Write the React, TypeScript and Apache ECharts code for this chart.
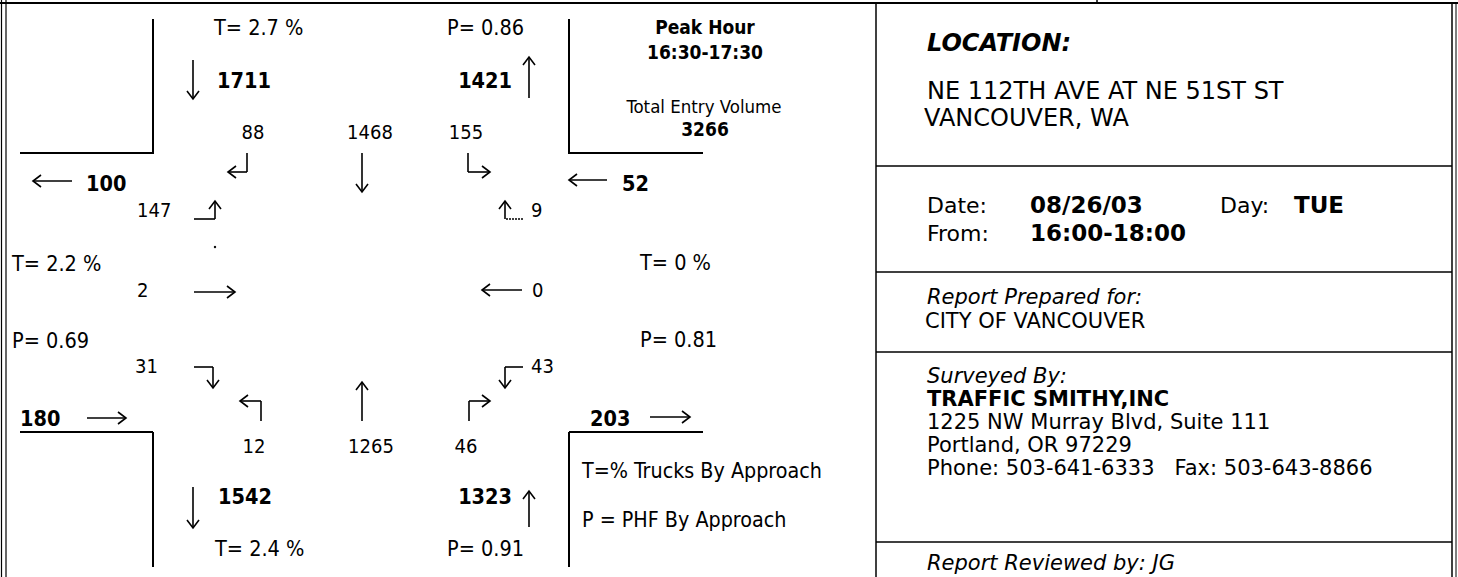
import React, { useEffect, useRef } from "react";
import * as echarts from "echarts";

const W = 1458;
const H = 577;
const FONT_C = "'DejaVu Sans Condensed', 'DejaVu Sans', sans-serif";
const FONT_W = "'DejaVu Sans', sans-serif";

// ---- data ----
const peakHour = "16:30-17:30";
const totalEntryVolume = 3266;
// leg order: north, east, south, west
const legApproach = [1711, 52, 1323, 180];
const legDeparture = [1421, 203, 1542, 100];
const legTrucks = ["2.7", "0", "2.4", "2.2"];
const legPhf = ["0.86", "0.81", "0.91", "0.69"];
// movements shown per approach
const southboundMoves = [88, 1468, 155]; // right, through, left
const northboundMoves = [12, 1265, 46]; // left, through, right
const eastboundMoves = [147, 2, 31]; // left, through, right
const westboundMoves = [9, 0, 43]; // right, through, left
const infoLocation = ["NE 112TH AVE AT NE 51ST ST", "VANCOUVER, WA"];
const infoDate = "08/26/03";
const infoDay = "TUE";
const infoFrom = "16:00-18:00";
const infoPreparedFor = "CITY OF VANCOUVER";
const infoSurveyor = "TRAFFIC SMITHY,INC";
const infoAddress = ["1225 NW Murray Blvd, Suite 111", "Portland, OR 97229", "Phone: 503-641-6333   Fax: 503-643-8866"];
const infoReviewer = "JG";

const LW = 1.6;

function line(x1: number, y1: number, x2: number, y2: number, lw = LW, dash?: number[]) {
  return {
    type: "line",
    shape: { x1, y1, x2, y2 },
    style: { stroke: "#000", lineWidth: lw, lineDash: dash },
    silent: true,
  };
}

function head(x: number, y: number, dir: string) {
  const a = 8;
  const b = 6;
  let pts: number[][];
  if (dir === "l") pts = [[x + a, y - b], [x, y], [x + a, y + b]];
  else if (dir === "r") pts = [[x - a, y - b], [x, y], [x - a, y + b]];
  else if (dir === "u") pts = [[x - b, y + a], [x, y], [x + b, y + a]];
  else pts = [[x - b, y - a], [x, y], [x + b, y - a]];
  return { type: "polyline", shape: { points: pts }, style: { stroke: "#000", lineWidth: LW, fill: null }, silent: true };
}

function path(points: number[][], dir: string, dash?: number[]) {
  const els: any[] = [];
  for (let i = 0; i < points.length - 1; i++) {
    els.push(line(points[i][0], points[i][1], points[i + 1][0], points[i + 1][1], LW, i === 0 ? dash : undefined));
  }
  const last = points[points.length - 1];
  els.push(head(last[0], last[1], dir));
  return els;
}

function txt(x: number, y: number, text: string | number, o: any = {}) {
  const align = o.align || "left";
  return {
    type: "text",
    x,
    y,
    silent: true,
    style: {
      text: String(text),
      fill: "#000",
      fontFamily: o.wide ? FONT_W : FONT_C,
      fontSize: o.size || 20,
      fontWeight: o.bold ? "bold" : "normal",
      fontStyle: o.italic ? "italic" : "normal",
      align,
      textAlign: align,
      verticalAlign: "middle",
      textVerticalAlign: "middle",
    },
  };
}

const LBL = 21.5; // T= / P= labels
const NUM = 20; // movement numbers
const BNUM = 21.5; // bold leg totals

function buildGraphics() {
  const g: any[] = [];
  // frame
  g.push(line(0, 3, W, 3, 2));
  g.push(line(1097, 0, 1097, 3, 1.5));
  g.push(line(1.5, 0, 1.5, H, 1.2));
  g.push(line(6, 0, 6, H, 1.2));
  g.push(line(876, 3, 876, H, 1.5));
  g.push(line(1452, 3, 1452, H, 1.5));
  g.push(line(1456, 3, 1456, H, 1));
  [166, 272, 352, 542].forEach((y) => g.push(line(876, y, 1452, y, 1.5)));

  // curbs
  g.push(line(153, 19, 153, 154, 2), line(20, 153, 153, 153, 2));
  g.push(line(569, 19, 569, 154, 2), line(569, 153, 703, 153, 2));
  g.push(line(20, 432, 153, 432, 2), line(153, 432, 153, 567, 2));
  g.push(line(569, 432, 703, 432, 2), line(569, 432, 569, 567, 2));

  // small scan dot
  g.push({ type: "circle", shape: { cx: 215, cy: 247, r: 1.2 }, style: { fill: "#000" }, silent: true });

  // north leg
  g.push(txt(214, 27, `T= ${legTrucks[0]} %`, { size: LBL }));
  g.push(txt(447, 27, `P= ${legPhf[0]}`, { size: LBL }));
  g.push(...path([[193, 60], [193, 99]], "d"));
  g.push(txt(217, 80, legApproach[0], { bold: true, size: BNUM }));
  g.push(txt(512, 80, legDeparture[0], { bold: true, size: BNUM, align: "right" }));
  g.push(...path([[529, 98], [529, 57]], "u"));

  // peak hour box
  g.push(txt(705, 27, "Peak Hour", { bold: true, size: 19, align: "center" }));
  g.push(txt(705, 52, peakHour, { bold: true, size: 19, align: "center" }));
  g.push(txt(704, 106, "Total Entry Volume", { size: 18.5, align: "center" }));
  g.push(txt(705, 129, totalEntryVolume, { bold: true, size: 19, align: "center" }));

  // southbound movements
  g.push(txt(253, 132, southboundMoves[0], { size: NUM, align: "center" }));
  g.push(txt(370, 132, southboundMoves[1], { size: NUM, align: "center" }));
  g.push(txt(466, 132, southboundMoves[2], { size: NUM, align: "center" }));
  g.push(...path([[247, 153], [247, 172], [228, 172]], "l"));
  g.push(...path([[362, 153], [362, 192]], "d"));
  g.push(...path([[468, 153], [468, 172], [490, 172]], "r"));

  // west leg departures / east leg approach
  g.push(...path([[72, 181], [33, 181]], "l"));
  g.push(txt(86, 183, legDeparture[3], { bold: true, size: BNUM }));
  g.push(...path([[607, 180], [569, 180]], "l"));
  g.push(txt(622, 183, legApproach[1], { bold: true, size: BNUM }));

  // eastbound movements
  g.push(txt(137, 210, eastboundMoves[0], { size: NUM }));
  g.push(...path([[194, 219], [215, 219], [215, 201]], "u"));
  g.push(txt(137, 290, eastboundMoves[1], { size: NUM }));
  g.push(...path([[194, 292], [235, 292]], "r"));
  g.push(txt(135, 366, eastboundMoves[2], { size: NUM }));
  g.push(...path([[194, 367], [213, 367], [213, 388]], "d"));

  // westbound movements
  g.push(txt(531, 210, westboundMoves[0], { size: NUM }));
  g.push(...path([[523, 219], [505, 219], [505, 201]], "u", [2, 1]));
  g.push(txt(532, 290, westboundMoves[1], { size: NUM }));
  g.push(...path([[522, 290], [482, 290]], "l"));
  g.push(txt(531, 366, westboundMoves[2], { size: NUM }));
  g.push(...path([[523, 367], [505, 367], [505, 388]], "d"));

  // west & east leg stats
  g.push(txt(12, 263, `T= ${legTrucks[3]} %`, { size: LBL }));
  g.push(txt(12, 340, `P= ${legPhf[3]}`, { size: LBL }));
  g.push(txt(640, 262, `T= ${legTrucks[1]} %`, { size: LBL }));
  g.push(txt(640, 339, `P= ${legPhf[1]}`, { size: LBL }));

  // west leg approach / east leg departure
  g.push(txt(20, 418, legApproach[3], { bold: true, size: BNUM }));
  g.push(...path([[87, 418], [126, 418]], "r"));
  g.push(txt(590, 418, legDeparture[1], { bold: true, size: BNUM }));
  g.push(...path([[650, 417], [690, 417]], "r"));

  // northbound movements
  g.push(...path([[261, 421], [261, 401], [240, 401]], "l"));
  g.push(...path([[362, 421], [362, 382]], "u"));
  g.push(...path([[469, 421], [469, 401], [490, 401]], "r"));
  g.push(txt(254, 446, northboundMoves[0], { size: NUM, align: "center" }));
  g.push(txt(371, 446, northboundMoves[1], { size: NUM, align: "center" }));
  g.push(txt(466, 446, northboundMoves[2], { size: NUM, align: "center" }));

  // south leg
  g.push(...path([[193, 487], [193, 528]], "d"));
  g.push(txt(218, 496, legDeparture[2], { bold: true, size: BNUM }));
  g.push(txt(512, 496, legApproach[2], { bold: true, size: BNUM, align: "right" }));
  g.push(...path([[529, 527], [529, 491]], "u"));
  g.push(txt(215, 548, `T= ${legTrucks[2]} %`, { size: LBL }));
  g.push(txt(447, 548, `P= ${legPhf[2]}`, { size: LBL }));

  // legend
  g.push(txt(582, 470, "T=% Trucks By Approach", { size: 21.3 }));
  g.push(txt(582, 519, "P = PHF By Approach", { size: 21.3 }));

  // info panel
  const X = 927;
  const S = 21;
  g.push(txt(X, 43, "LOCATION:", { bold: true, italic: true, size: 24, wide: true }));
  g.push(txt(X, 91, infoLocation[0], { size: 24, wide: true }));
  g.push(txt(X - 3, 118, infoLocation[1], { size: 24, wide: true }));
  g.push(txt(X, 205, "Date:", { size: 22, wide: true }));
  g.push(txt(1030, 205, infoDate, { bold: true, size: 23, wide: true }));
  g.push(txt(1220, 205, "Day:", { size: 22, wide: true }));
  g.push(txt(1294, 205, infoDay, { bold: true, size: 23, wide: true }));
  g.push(txt(X, 233, "From:", { size: 22, wide: true }));
  g.push(txt(1030, 233, infoFrom, { bold: true, size: 23, wide: true }));
  g.push(txt(X, 297, "Report Prepared for:", { italic: true, size: S, wide: true }));
  g.push(txt(X - 2, 321, infoPreparedFor, { size: S, wide: true }));
  g.push(txt(X, 376, "Surveyed By:", { italic: true, size: S, wide: true }));
  g.push(txt(X, 399, infoSurveyor, { bold: true, size: S, wide: true }));
  infoAddress.forEach((s, i) => g.push(txt(X, 422 + i * 23, s, { size: S, wide: true })));
  g.push(txt(X, 563, `Report Reviewed by: ${infoReviewer}`, { italic: true, size: S, wide: true }));
  return g;
}

export default function App() {
  const ref = useRef<HTMLDivElement>(null);
  useEffect(() => {
    if (!ref.current) return;
    const chart = echarts.init(ref.current, undefined, { renderer: "svg", width: W, height: H });
    chart.setOption({
      animation: false,
      backgroundColor: "#fff",
      graphic: { elements: buildGraphics() },
    });
    return () => chart.dispose();
  }, []);
  return (
    <div
      ref={ref}
      style={{ position: "absolute", left: 0, top: 0, width: W, height: H, background: "#fff" }}
    />
  );
}
